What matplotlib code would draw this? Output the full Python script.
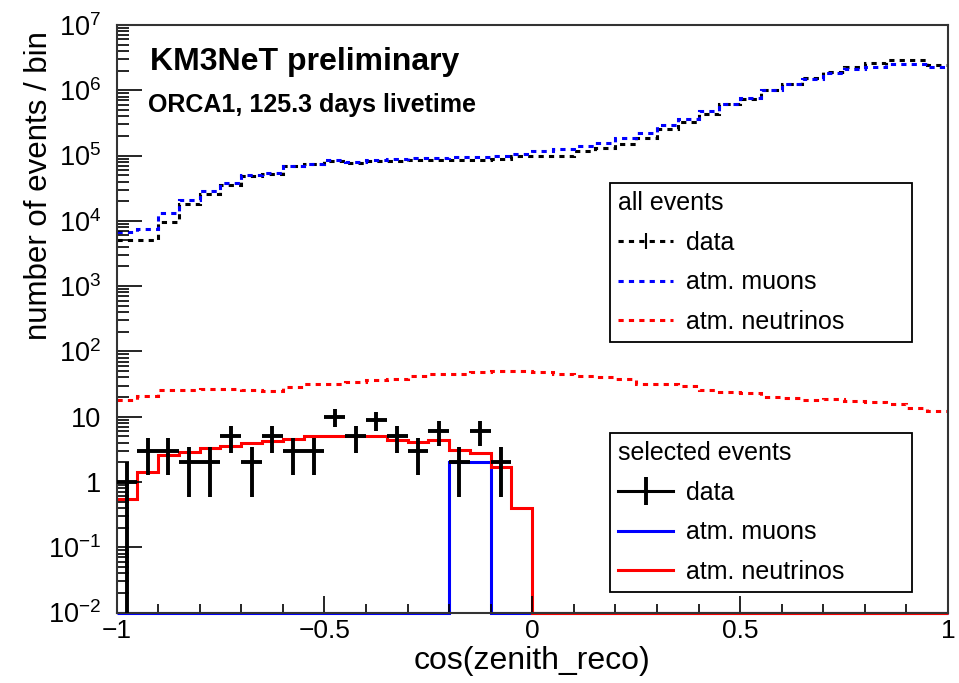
import numpy as np
import matplotlib
matplotlib.use("Agg")
import matplotlib.pyplot as plt
from matplotlib.lines import Line2D
from matplotlib.ticker import FixedLocator, FuncFormatter, MultipleLocator

plt.rcParams['font.family'] = ['Liberation Sans', 'DejaVu Sans']
plt.rcParams['mathtext.fontset'] = 'custom'
plt.rcParams['mathtext.rm'] = 'Liberation Sans'

# binning of cos(zenith_reco)
x_min, x_max, n_bins = -1.0, 1.0, 40

# all events (per bin)
all_data = [5000, 5000, 9500, 17800, 26000, 35000, 48000, 53000, 68000, 73000,
            82000, 78000, 82000, 84000, 86000, 85000, 87000, 87000, 88000, 100000,
            98000, 100000, 117000, 132000, 148000, 188000, 251000, 325000, 427000, 608000,
            742000, 995000, 1230000, 1550000, 1900000, 2300000, 2650000, 2900000, 2900000, 2410000]
all_muons = [6700, 7500, 13300, 21000, 28400, 38000, 51000, 54000, 69000, 73000,
             85000, 79000, 87000, 89000, 91000, 92500, 96000, 96000, 98000, 107000,
             117000, 124000, 139000, 157000, 183000, 224000, 290000, 358000, 480000, 608000,
             770000, 995000, 1230000, 1510000, 1820000, 2090000, 2300000, 2500000, 2500000, 2300000]
all_nu = [17.7, 21, 25.9, 26, 26.8, 26.8, 25.2, 25, 28.4, 31.6,
          31.9, 33.5, 36.8, 37.5, 41.4, 45, 45, 48.3, 49.4, 50,
          47.6, 45, 41.4, 40, 37.7, 32, 32, 29.8, 25.9, 23.5,
          23, 20, 19.3, 18.2, 18.8, 17.1, 16.5, 15.6, 13.5, 12.4]

# selected events
sel_muons = [0]*16 + [2.0, 2.0] + [0]*22
sel_nu = [0.55, 1.44, 2.6, 2.86, 3.3, 3.5, 4.0, 4.2, 4.5, 5.0,
          5.0, 5.0, 5.0, 4.4, 4.1, 4.4, 3.1, 2.77, 1.72, 0.40] + [0]*20
sel_data = [1, 3, 3, 2, 2, 5, 2, 5, 3, 3, 10, 5, 9, 5, 3, 6, 2, 6, 2]

y_min, y_max = 1e-2, 1e7

edges = np.linspace(x_min, x_max, n_bins + 1)
width = edges[1] - edges[0]
centers = edges[:-1] + width / 2

fig = plt.figure(figsize=(9.59, 6.83), dpi=100)
ax = fig.add_axes([0.1215, 0.1032, 0.867, 0.8602])

lw = 2.2
dot = (0, (1.7, 1.7))
ax.stairs(all_data, edges, color='black', lw=lw, ls=dot, baseline=None)
ax.stairs(all_muons, edges, color='blue', lw=lw, ls=dot, baseline=None)
ax.stairs(all_nu, edges, color='red', lw=lw, ls=dot, baseline=None)

ax.stairs(np.clip(sel_muons, y_min, None), edges, color='blue', lw=lw,
          baseline=None, clip_on=False)
ax.stairs(np.clip(sel_nu, y_min, None), edges, color='red', lw=lw,
          baseline=None, clip_on=False)

n = np.array(sel_data, dtype=float)
xc = centers[:len(n)]
lo = n - np.clip(n - np.sqrt(n), y_min, None)
hi = np.sqrt(n)
ax.errorbar(xc, n, xerr=width / 2, yerr=[lo, hi], fmt='none', ecolor='black',
            elinewidth=2.8, capsize=0, zorder=5)

ax.set_yscale('log')
ax.set_xlim(x_min, x_max)
ax.set_ylim(y_min, y_max)

ax.xaxis.set_major_locator(MultipleLocator(0.5))
ax.xaxis.set_minor_locator(MultipleLocator(0.1))
ax.xaxis.set_major_formatter(FuncFormatter(lambda v, p: ('%g' % v).replace('-', '\u2212')))

def ylab(v, p):
    e = int(round(np.log10(v)))
    if e == 0:
        return '1'
    if e == 1:
        return '10'
    return r'$\mathregular{10^{%d}}$' % e

ax.yaxis.set_major_locator(FixedLocator([10.0**k for k in range(-2, 8)]))
ax.yaxis.set_major_formatter(FuncFormatter(ylab))
minors = [m * 10.0**k for k in range(-2, 7) for m in range(2, 10)]
ax.yaxis.set_minor_locator(FixedLocator(minors))

ax.tick_params(axis='both', which='both', direction='in', top=False, right=False,
               color='black', width=1.2)
ax.tick_params(axis='y', which='major', length=18, pad=11, labelsize=19.5)
ax.tick_params(axis='y', which='minor', length=8.6)
ax.tick_params(axis='x', which='major', length=12, pad=5, labelsize=19)
ax.tick_params(axis='x', which='minor', length=6.5)
for s in ax.spines.values():
    s.set_linewidth(1.5)
    s.set_color('#333333')

ax.set_xlabel('cos(zenith_reco)', fontsize=23, labelpad=2)
ax.set_ylabel('number of events / bin', fontsize=22.5, loc='top')
ax.yaxis.set_label_coords(-0.075, 0.99)

ax.text(0.040, 0.937, 'KM3NeT preliminary', transform=ax.transAxes,
        fontsize=23, fontweight='bold', va='center', ha='left')
ax.text(0.038, 0.864, 'ORCA1, 125.3 days livetime', transform=ax.transAxes,
        fontsize=18, fontweight='bold', va='center', ha='left')

h_all = [
    (Line2D([], [], color='black', lw=lw, ls=dot),
     Line2D([], [], color='black', marker='|', ls='none', markersize=12, mew=1.5)),
    Line2D([], [], color='blue', lw=lw, ls=dot),
    Line2D([], [], color='red', lw=lw, ls=dot),
]
h_sel = [
    (Line2D([], [], color='black', lw=lw),
     Line2D([], [], color='black', marker='|', ls='none', markersize=20, mew=2.8)),
    Line2D([], [], color='blue', lw=lw),
    Line2D([], [], color='red', lw=lw),
]
labels = ['data', 'atm. muons', 'atm. neutrinos']

common = dict(loc='upper left', mode='expand', fancybox=False, framealpha=1,
              edgecolor='black', fontsize=18, title_fontsize=18, alignment='left',
              handlelength=2.2, handletextpad=0.5, labelspacing=0.62,
              borderpad=0.33, borderaxespad=0)
leg1 = ax.legend(h_all, labels, title='all events',
                 bbox_to_anchor=(0.5935, 0.4604, 0.363, 0.2706), **common)
leg1.get_frame().set_linewidth(1.3)
ax.add_artist(leg1)
leg2 = ax.legend(h_sel, labels, title='selected events',
                 bbox_to_anchor=(0.5935, 0.0349, 0.363, 0.2706), **common)
leg2.get_frame().set_linewidth(1.3)

fig.savefig('out.png', dpi=100)
